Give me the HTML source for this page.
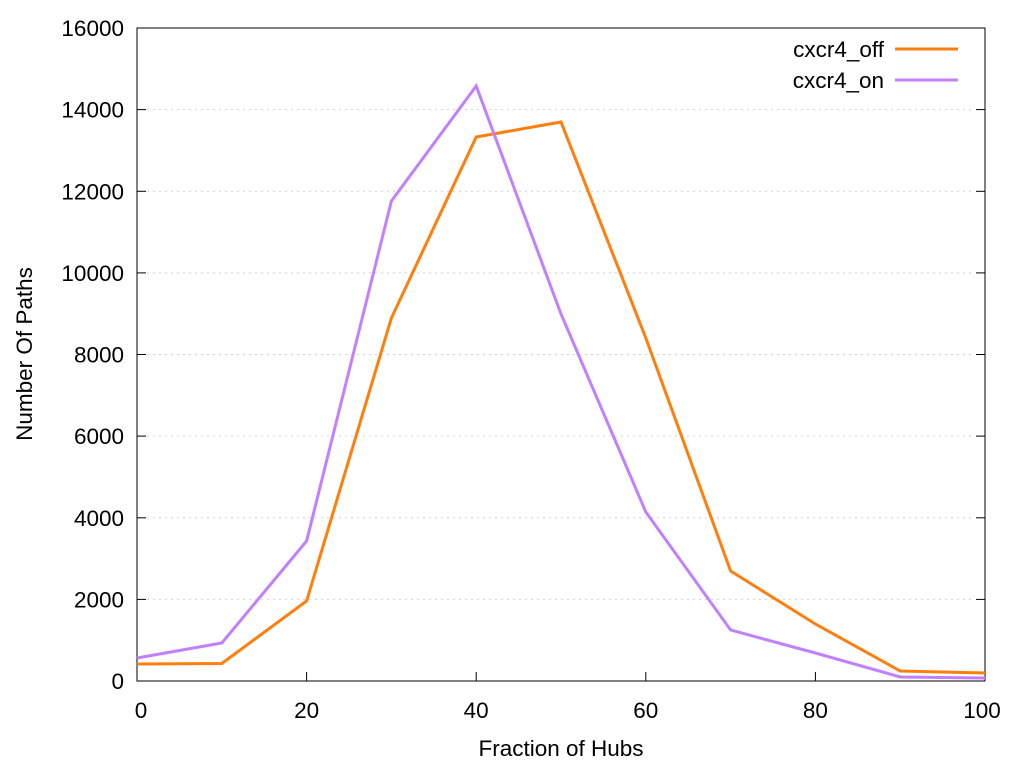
<!DOCTYPE html>
<html><head><meta charset="utf-8"><style>body{margin:0;background:#fff}</style></head><body>
<svg width="1024" height="768" xmlns="http://www.w3.org/2000/svg" font-family="Liberation Sans, Arial, sans-serif" font-size="22.5">
<rect width="1024" height="768" fill="#fff"/>
<g stroke="#d0d0d0" stroke-width="1" stroke-dasharray="2,4">
<line x1="147" y1="599.4" x2="975" y2="599.4"/>
<line x1="147" y1="517.8" x2="975" y2="517.8"/>
<line x1="147" y1="436.1" x2="975" y2="436.1"/>
<line x1="147" y1="354.5" x2="975" y2="354.5"/>
<line x1="147" y1="272.9" x2="975" y2="272.9"/>
<line x1="147" y1="191.3" x2="975" y2="191.3"/>
<line x1="147" y1="109.6" x2="975" y2="109.6"/>
</g>
<rect x="137" y="28" width="848" height="653" fill="none" stroke="#000" stroke-width="1"/>
<g stroke="#000" stroke-width="1">
<line x1="137" y1="599.4" x2="146" y2="599.4"/><line x1="985" y1="599.4" x2="976" y2="599.4"/>
<line x1="137" y1="517.8" x2="146" y2="517.8"/><line x1="985" y1="517.8" x2="976" y2="517.8"/>
<line x1="137" y1="436.1" x2="146" y2="436.1"/><line x1="985" y1="436.1" x2="976" y2="436.1"/>
<line x1="137" y1="354.5" x2="146" y2="354.5"/><line x1="985" y1="354.5" x2="976" y2="354.5"/>
<line x1="137" y1="272.9" x2="146" y2="272.9"/><line x1="985" y1="272.9" x2="976" y2="272.9"/>
<line x1="137" y1="191.3" x2="146" y2="191.3"/><line x1="985" y1="191.3" x2="976" y2="191.3"/>
<line x1="137" y1="109.6" x2="146" y2="109.6"/><line x1="985" y1="109.6" x2="976" y2="109.6"/>
<line x1="306.6" y1="681" x2="306.6" y2="672"/>
<line x1="476.2" y1="681" x2="476.2" y2="672"/>
<line x1="645.8" y1="681" x2="645.8" y2="672"/>
<line x1="815.4" y1="681" x2="815.4" y2="672"/>
</g>
<g text-anchor="end">
<text x="124" y="689">0</text><text x="124" y="607.5">2000</text><text x="124" y="525.9">4000</text>
<text x="124" y="444.2">6000</text><text x="124" y="362.6">8000</text><text x="124" y="281">10000</text>
<text x="124" y="199.4">12000</text><text x="124" y="117.7">14000</text><text x="124" y="36">16000</text>
</g>
<g text-anchor="middle">
<text x="141" y="718">0</text><text x="306.6" y="718">20</text><text x="476.2" y="718">40</text>
<text x="645.8" y="718">60</text><text x="815.4" y="718">80</text><text x="982" y="718">100</text>
<text x="561" y="756">Fraction of Hubs</text>
<text transform="translate(32,354) rotate(-90)">Number Of Paths</text>
</g>
<polyline fill="none" stroke="#ff7f0e" stroke-width="3" points="137,664 221.8,663.5 306.6,601 391.4,318 476.2,137 561,122 645.8,338 730.6,571 815.4,624 900.2,671 985,673"/>
<polyline fill="none" stroke="#c080ff" stroke-width="3" points="137,658 221.8,643 306.6,541 391.4,201 476.2,86 561,314 645.8,512 730.6,630 815.4,653 900.2,677 985,678"/>
<text x="884" y="57" text-anchor="end">cxcr4_off</text>
<line x1="895" y1="49" x2="958" y2="49" stroke="#ff7f0e" stroke-width="3"/>
<text x="884" y="88" text-anchor="end">cxcr4_on</text>
<line x1="895" y1="80" x2="958" y2="80" stroke="#c080ff" stroke-width="3"/>
</svg>
</body></html>
